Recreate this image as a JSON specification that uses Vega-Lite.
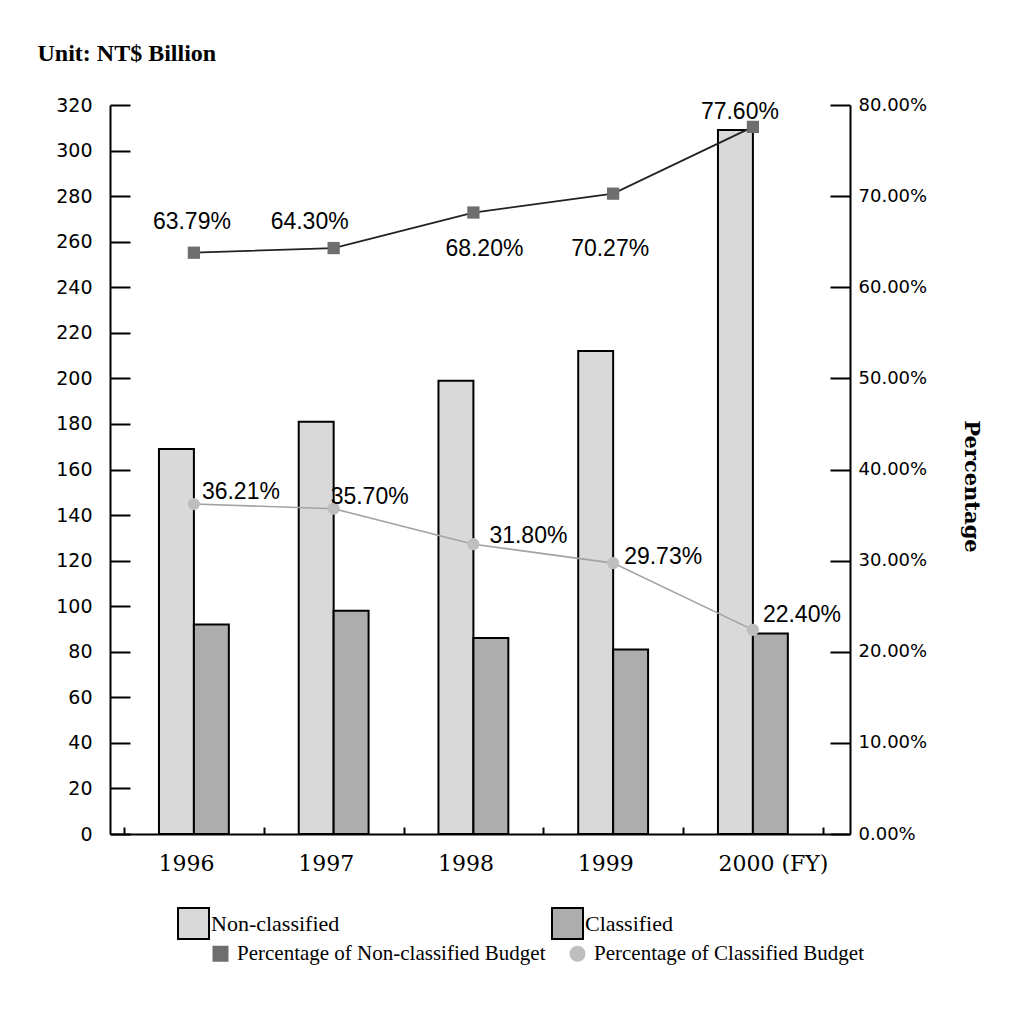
{
  "$schema": "https://vega.github.io/schema/vega-lite/v6.json",
  "width": 740,
  "height": 729,
  "autosize": {"type": "none"},
  "padding": {"left": 110, "top": 105, "right": 170, "bottom": 177},
  "background": "white",
  "config": {"view": {"stroke": null}},
  "datasets": {
    "budget": [
      {"year": "1996", "type": "Non-classified", "amount": 169},
      {"year": "1996", "type": "Classified", "amount": 92},
      {"year": "1997", "type": "Non-classified", "amount": 181},
      {"year": "1997", "type": "Classified", "amount": 98},
      {"year": "1998", "type": "Non-classified", "amount": 199},
      {"year": "1998", "type": "Classified", "amount": 86},
      {"year": "1999", "type": "Non-classified", "amount": 212},
      {"year": "1999", "type": "Classified", "amount": 81},
      {"year": "2000", "type": "Non-classified", "amount": 309},
      {"year": "2000", "type": "Classified", "amount": 88}
    ],
    "pct": [
      {"year": "1996", "series": "Percentage of Non-classified Budget", "pct": 63.79, "label": "63.79%"},
      {"year": "1997", "series": "Percentage of Non-classified Budget", "pct": 64.30, "label": "64.30%"},
      {"year": "1998", "series": "Percentage of Non-classified Budget", "pct": 68.20, "label": "68.20%"},
      {"year": "1999", "series": "Percentage of Non-classified Budget", "pct": 70.27, "label": "70.27%"},
      {"year": "2000", "series": "Percentage of Non-classified Budget", "pct": 77.60, "label": "77.60%"},
      {"year": "1996", "series": "Percentage of Classified Budget", "pct": 36.21, "label": "36.21%"},
      {"year": "1997", "series": "Percentage of Classified Budget", "pct": 35.70, "label": "35.70%"},
      {"year": "1998", "series": "Percentage of Classified Budget", "pct": 31.80, "label": "31.80%"},
      {"year": "1999", "series": "Percentage of Classified Budget", "pct": 29.73, "label": "29.73%"},
      {"year": "2000", "series": "Percentage of Classified Budget", "pct": 22.40, "label": "22.40%"}
    ]
  },
  "encoding": {
    "x": {
      "field": "year",
      "type": "nominal",
      "sort": ["1996", "1997", "1998", "1999", "2000"],
      "scale": {"type": "band", "paddingInner": 0, "paddingOuter": 0.1476, "align": 0.34},
      "axis": {
        "title": null,
        "labelAngle": 0,
        "tickBand": "extent",
        "domainColor": "black",
        "domainWidth": 2,
        "tickColor": "black",
        "tickWidth": 2,
        "tickSize": -7,
        "labelFont": "DejaVu Serif",
        "labelFontSize": 22,
        "labelColor": "black",
        "labelPadding": 26,
        "labelExpr": "datum.value == '2000' ? '2000  (FY)' : datum.value",
        "labelAlign": {"condition": {"test": "datum.value == '2000'", "value": "left"}, "value": "center"},
        "labelOffset": {"condition": {"test": "datum.value == '2000'", "value": -35}, "value": -8}
      }
    }
  },
  "layer": [
    {
      "data": {"name": "budget"},
      "mark": {"type": "bar", "stroke": "black", "strokeWidth": 2},
      "encoding": {
        "xOffset": {
          "field": "type",
          "type": "nominal",
          "sort": ["Non-classified", "Classified"],
          "scale": {"paddingOuter": 1, "paddingInner": 0}
        },
        "y": {
          "field": "amount",
          "type": "quantitative",
          "scale": {"domain": [0, 320], "nice": false},
          "axis": {
            "orient": "left",
            "values": [0, 20, 40, 60, 80, 100, 120, 140, 160, 180, 200, 220, 240, 260, 280, 300, 320],
            "grid": false,
            "domainColor": "black",
            "domainWidth": 2,
            "tickColor": "black",
            "tickWidth": 2,
            "tickSize": -20,
            "labelFont": "DejaVu Sans",
            "labelFontSize": 19,
            "labelColor": "black",
            "labelPadding": 38,
            "title": "Unit: NT$ Billion",
            "titleAngle": 0,
            "titleX": -73,
            "titleY": -45,
            "titleAlign": "left",
            "titleBaseline": "alphabetic",
            "titleFont": "Liberation Serif",
            "titleFontSize": 24,
            "titleFontWeight": "bold",
            "titleColor": "black"
          }
        },
        "fill": {
          "field": "type",
          "type": "nominal",
          "scale": {"domain": ["Non-classified", "Classified"], "range": ["#d9d9d9", "#adadad"]},
          "legend": {
            "orient": "none",
            "legendX": 67,
            "legendY": 802,
            "direction": "horizontal",
            "columns": 2,
            "title": null,
            "padding": 0,
            "symbolType": "square",
            "symbolSize": 961,
            "symbolStrokeColor": "black",
            "symbolStrokeWidth": 2,
            "labelFont": "Liberation Serif",
            "labelFontSize": 22,
            "labelColor": "black",
            "labelOffset": 1,
            "columnPadding": 208,
            "labelLimit": 400
          }
        }
      }
    },
    {
      "data": {"name": "pct"},
      "encoding": {
        "y": {
          "field": "pct",
          "type": "quantitative",
          "scale": {"domain": [0, 80], "nice": false},
          "axis": {
            "orient": "right",
            "values": [0, 10, 20, 30, 40, 50, 60, 70, 80],
            "labelExpr": "format(datum.value, '.2f') + '%'",
            "grid": false,
            "domainColor": "black",
            "domainWidth": 2,
            "tickColor": "black",
            "tickWidth": 2,
            "tickSize": -20,
            "labelFont": "DejaVu Sans",
            "labelFontSize": 18,
            "labelColor": "black",
            "labelPadding": 28,
            "title": "Percentage",
            "titleAngle": 90,
            "titleX": 120,
            "titleY": 381,
            "titleAlign": "center",
            "titleBaseline": "middle",
            "titleFont": "DejaVu Serif",
            "titleFontSize": 21,
            "titleFontWeight": "bold",
            "titleColor": "black"
          }
        }
      },
      "layer": [
        {
          "transform": [{"filter": "datum.series == 'Percentage of Non-classified Budget'"}],
          "mark": {"type": "line", "color": "#222222", "strokeWidth": 1.8},
          "encoding": {}
        },
        {
          "transform": [{"filter": "datum.series == 'Percentage of Classified Budget'"}],
          "mark": {"type": "line", "color": "#a3a3a3", "strokeWidth": 1.6},
          "encoding": {}
        },
        {
          "mark": {"type": "point", "filled": true, "size": 150, "opacity": 1},
          "encoding": {
            "color": {
              "field": "series",
              "type": "nominal",
              "scale": {"domain": ["Percentage of Non-classified Budget", "Percentage of Classified Budget"], "range": ["#6e6e6e", "#bebebe"]},
              "legend": {
                "orient": "none",
                "legendX": 100,
                "legendY": 838,
                "direction": "horizontal",
                "columns": 2,
                "title": null,
                "padding": 0,
                "symbolSize": 256,
                "symbolOpacity": 1,
                "labelFont": "Liberation Serif",
                "labelFontSize": 21,
                "labelColor": "black",
                "labelOffset": 6,
                "columnPadding": 20,
                "labelLimit": 400
              }
            },
            "shape": {
              "field": "series",
              "type": "nominal",
              "scale": {"domain": ["Percentage of Non-classified Budget", "Percentage of Classified Budget"], "range": ["square", "circle"]}
            }
          }
        },
        {
          "transform": [{"filter": "datum.year == '1996' && datum.series == 'Percentage of Non-classified Budget'"}],
          "mark": {"type": "text", "font": "Liberation Sans", "fontSize": 23, "color": "black", "align": "center", "baseline": "middle", "dx": -2, "dy": -31},
          "encoding": {"text": {"field": "label"}}
        },
        {
          "transform": [{"filter": "datum.year == '1997' && datum.series == 'Percentage of Non-classified Budget'"}],
          "mark": {"type": "text", "font": "Liberation Sans", "fontSize": 23, "color": "black", "align": "center", "baseline": "middle", "dx": -24, "dy": -26},
          "encoding": {"text": {"field": "label"}}
        },
        {
          "transform": [{"filter": "datum.year == '1998' && datum.series == 'Percentage of Non-classified Budget'"}],
          "mark": {"type": "text", "font": "Liberation Sans", "fontSize": 23, "color": "black", "align": "center", "baseline": "middle", "dx": 11, "dy": 36},
          "encoding": {"text": {"field": "label"}}
        },
        {
          "transform": [{"filter": "datum.year == '1999' && datum.series == 'Percentage of Non-classified Budget'"}],
          "mark": {"type": "text", "font": "Liberation Sans", "fontSize": 23, "color": "black", "align": "center", "baseline": "middle", "dx": -3, "dy": 55},
          "encoding": {"text": {"field": "label"}}
        },
        {
          "transform": [{"filter": "datum.year == '2000' && datum.series == 'Percentage of Non-classified Budget'"}],
          "mark": {"type": "text", "font": "Liberation Sans", "fontSize": 23, "color": "black", "align": "center", "baseline": "middle", "dx": -13, "dy": -15},
          "encoding": {"text": {"field": "label"}}
        },
        {
          "transform": [{"filter": "datum.year == '1996' && datum.series == 'Percentage of Classified Budget'"}],
          "mark": {"type": "text", "font": "Liberation Sans", "fontSize": 23, "color": "black", "align": "center", "baseline": "middle", "dx": 47, "dy": -12},
          "encoding": {"text": {"field": "label"}}
        },
        {
          "transform": [{"filter": "datum.year == '1997' && datum.series == 'Percentage of Classified Budget'"}],
          "mark": {"type": "text", "font": "Liberation Sans", "fontSize": 23, "color": "black", "align": "center", "baseline": "middle", "dx": 36, "dy": -12},
          "encoding": {"text": {"field": "label"}}
        },
        {
          "transform": [{"filter": "datum.year == '1998' && datum.series == 'Percentage of Classified Budget'"}],
          "mark": {"type": "text", "font": "Liberation Sans", "fontSize": 23, "color": "black", "align": "center", "baseline": "middle", "dx": 55, "dy": -8},
          "encoding": {"text": {"field": "label"}}
        },
        {
          "transform": [{"filter": "datum.year == '1999' && datum.series == 'Percentage of Classified Budget'"}],
          "mark": {"type": "text", "font": "Liberation Sans", "fontSize": 23, "color": "black", "align": "center", "baseline": "middle", "dx": 50, "dy": -6},
          "encoding": {"text": {"field": "label"}}
        },
        {
          "transform": [{"filter": "datum.year == '2000' && datum.series == 'Percentage of Classified Budget'"}],
          "mark": {"type": "text", "font": "Liberation Sans", "fontSize": 23, "color": "black", "align": "center", "baseline": "middle", "dx": 49, "dy": -15},
          "encoding": {"text": {"field": "label"}}
        }
      ]
    }
  ],
  "resolve": {"scale": {"y": "independent"}}
}
